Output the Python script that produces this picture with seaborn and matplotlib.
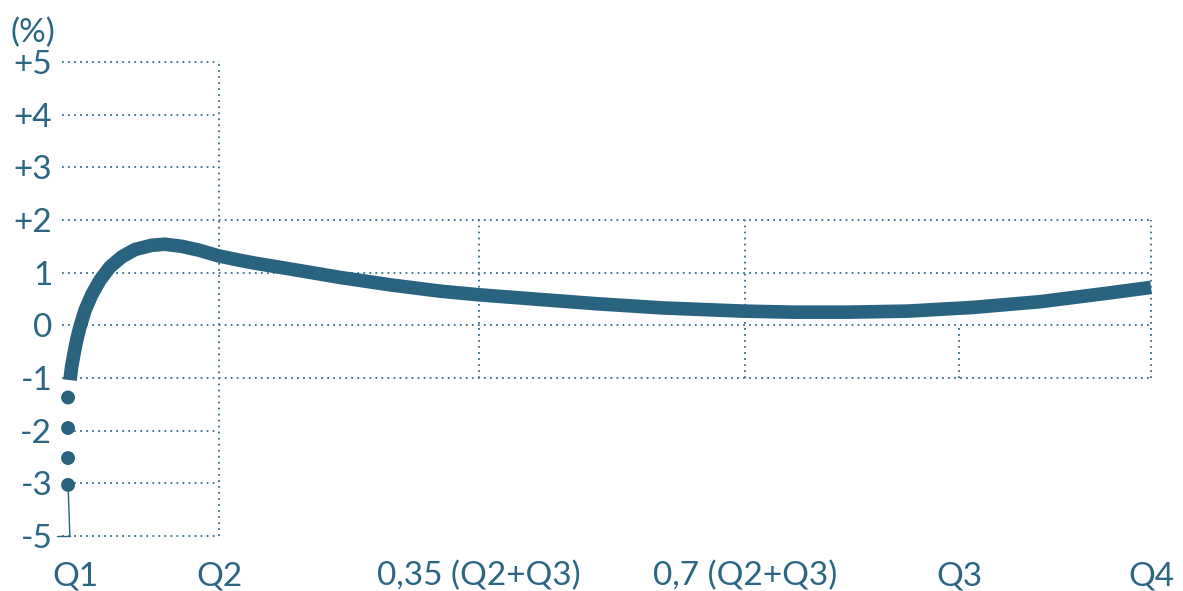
import matplotlib
matplotlib.use("Agg")
import matplotlib.pyplot as plt
import matplotlib.transforms as mtransforms
import seaborn as sns
import pandas as pd

# ---- data ----
x_tick_pos = [0.0, 1.0, 2.72, 4.48, 5.90, 7.17]
x_tick_labels = ["Q1", "Q2", "0,35 (Q2+Q3)", "0,7 (Q2+Q3)", "Q3", "Q4"]
y_tick_pos = [5, 4, 3, 2, 1, 0, -1, -2, -3, -4]
y_tick_labels = ["+5", "+4", "+3", "+2", "1", "0", "-1", "-2", "-3", "-5"]

curve_x = [0.013, 0.024, 0.040, 0.057, 0.079, 0.113, 0.157, 0.212, 0.278, 0.356,
           0.444, 0.554, 0.642, 0.753, 0.863, 0.995, 1.128, 1.238, 1.47, 1.80,
           2.13, 2.46, 2.72, 3.13, 3.50, 3.94, 4.47, 4.80, 5.16, 5.56, 5.99,
           6.44, 6.88, 7.17]
curve_y = [-1.04, -0.78, -0.53, -0.28, -0.03, 0.29, 0.58, 0.86, 1.11, 1.30,
           1.44, 1.52, 1.54, 1.50, 1.43, 1.32, 1.24, 1.18, 1.07, 0.91,
           0.77, 0.65, 0.58, 0.49, 0.41, 0.33, 0.27, 0.25, 0.25, 0.27, 0.34,
           0.45, 0.61, 0.72]

dots_x = [0.0, 0.0, 0.0, 0.0]
dots_y = [-1.37, -1.95, -2.52, -3.03]

full_rows = [2, 1, 0, -1]          # rows spanning to Q4
short_rows = [5, 4, 3, -2, -3, -4]  # rows spanning to Q2

COLOR = "#29637f"
TEXT = "#2b6683"
GRID = "#3f7691"

sns.set_theme(style="white")
plt.rcParams["font.family"] = ["Lato", "DejaVu Sans"]

fig = plt.figure(figsize=(11.83, 5.91), dpi=100)
W, H = 1183, 591
ax = fig.add_axes([62 / W, 1 - 536 / H, (1151 - 62) / W, (536 - 62) / H])
ax.set_xlim(-0.04, 7.17)
ax.set_ylim(-4, 5)
for s in ax.spines.values():
    s.set_visible(False)

dots = (0, (0.9, 2.2))
x0 = ax.get_xlim()[0]
q2 = x_tick_pos[1]
q4 = x_tick_pos[-1]
kw = dict(colors=GRID, linewidth=1.4, linestyles=[dots], clip_on=False, zorder=1)
ax.hlines(full_rows, x0, q4, **kw)
ax.hlines(short_rows, x0, q2, **kw)
ax.vlines([q2], -4, 5, **kw)
ax.vlines([x_tick_pos[2], x_tick_pos[3], q4], -1, 2, **kw)
ax.vlines([x_tick_pos[4]], -1, 0, **kw)

# small solid tick at bottom-left
ax.plot([x0 - 0.035, x_tick_pos[0] + 0.01], [-4, -4], color=COLOR, lw=1, clip_on=False, zorder=2)

df = pd.DataFrame({"x": curve_x, "y": curve_y})
sns.lineplot(data=df, x="x", y="y", ax=ax, color=COLOR, linewidth=9.8, sort=False,
             solid_capstyle="butt", solid_joinstyle="round", clip_on=False, zorder=3)

ddf = pd.DataFrame({"x": dots_x, "y": dots_y})
sns.scatterplot(data=ddf, x="x", y="y", ax=ax, color=COLOR, s=100, edgecolor="none",
                clip_on=False, zorder=3)
# thin connector from last dot to the axis
ax.plot([dots_x[-1], dots_x[-1] + 0.012], [dots_y[-1], -4], color=COLOR, lw=1, clip_on=False, zorder=2)

ax.set_xlabel("")
ax.set_ylabel("")
ax.set_xticks(x_tick_pos)
ax.set_xticklabels(x_tick_labels)
ax.set_yticks(y_tick_pos)
ax.set_yticklabels(y_tick_labels)
ax.tick_params(axis="both", length=0, labelsize=24, labelcolor=TEXT)
ax.tick_params(axis="y", pad=7)
ax.tick_params(axis="x", pad=18)
# nudge Q1 label slightly right
first = ax.get_xticklabels()[0]
first.set_transform(first.get_transform() + mtransforms.ScaledTranslation(7 / 100, 0, fig.dpi_scale_trans))

fig.text(10 / W, 1 - 33 / H, "(%)", ha="left", va="center", fontsize=24, color=TEXT)

fig.savefig("out.png", dpi=100, facecolor="white")
